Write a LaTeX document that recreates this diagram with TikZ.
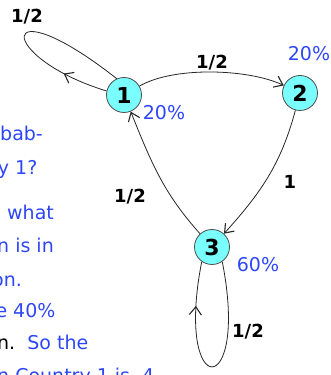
\documentclass[tikz,border=0pt]{standalone}
\usepackage{fontspec}
\setmainfont{DejaVu Sans}
\usetikzlibrary{arrows.meta,decorations.markings}
\definecolor{statefill}{RGB}{122,255,255}
\definecolor{pctblue}{RGB}{45,70,250}

\begin{document}
\begin{tikzpicture}[
  x=1pt,y=1pt,
  >={Straight Barb[length=8pt,width=12pt,line width=1.1pt]},
  edge/.style={draw=black!85,line width=0.8pt},
  state/.style={circle,draw=black!70,line width=0.8pt,fill=statefill,
    minimum size=35pt,inner sep=0pt,font=\bfseries\fontsize{22}{22}\selectfont},
  prob/.style={font=\bfseries\fontsize{18}{18}\selectfont},
  pct/.style={text=pctblue,font=\fontsize{19}{19}\selectfont},
  prose/.style={text=pctblue,anchor=base west,inner sep=0pt,
    font=\fontsize{19}{19}\selectfont},
  midarrow/.style={postaction={decorate},
    decoration={markings,mark=at position #1 with {\arrow{>}}}}
]
  \useasboundingbox (0,0) rectangle (331,375);

  % text of the slide, cut off by the left edge
  \node[prose] (p1) at (0,234) {bab-};
  \node[prose] (p2) at (-2.3,200) {y 1?};
  \node[prose] (p3) at (7,155) {what};
  \node[prose] (p4) at (-3,122) {n is in};
  \node[prose] (p5) at (-8,88) {on.};
  \node[prose] (p6) at (-4.7,57) {e 40\%};
  \node[prose] (p7) at (-3,25) {{\color{black}n.}\ \ So the};
  \node[prose] (p8) at (-3,-8) {n Country 1 is .4};

  % the three countries
  \node[state] (n1) at (124,280) {1};
  \node[state] (n2) at (300,282) {2};
  \node[state] (n3) at (212,128) {3};

  \node[pct] (f1) at (164,262) {20\%};
  \node[pct] (f2) at (309,321) {20\%};
  \node[pct] (f3) at (258,110) {60\%};

  % moves between countries
  \draw[edge,midarrow=0.22] (n1.167) .. controls (-5,318) and (-5,392) .. (n1.114);
  \draw[edge,->] (n1) to[out=30,in=155,looseness=0.7] (n2);
  \draw[edge,->] (n2) to[out=255,in=48] (n3);
  \draw[edge,->] (n3) to[out=132,in=-68] (n1);
  \draw[edge,midarrow=0.8] (n3.-55) .. controls (250,-27) and (174,-27) .. (n3.-125);

  \node[prob] (l11) at (27,358) {1/2};
  \node[prob] (l12) at (212,312) {1/2};
  \node[prob] (l23) at (290,193) {1};
  \node[prob] (l31) at (130,178) {1/2};
  \node[prob] (l33) at (248,43) {1/2};
\end{tikzpicture}
\end{document}
